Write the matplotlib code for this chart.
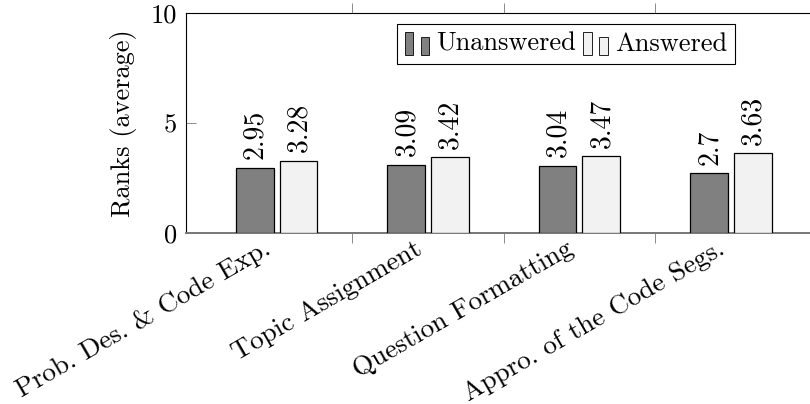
import matplotlib
matplotlib.use("Agg")
import matplotlib.pyplot as plt
import numpy as np
from matplotlib.legend_handler import HandlerBase
from matplotlib.patches import Rectangle

categories = ["Prob. Des. & Code Exp.", "Topic Assignment",
              "Question Formatting", "Appro. of the Code Segs."]
unanswered = [2.95, 3.09, 3.04, 2.7]
answered = [3.28, 3.42, 3.47, 3.63]
unanswered_labels = ["2.95", "3.09", "3.04", "2.7"]
answered_labels = ["3.28", "3.42", "3.47", "3.63"]
series_names = ["Unanswered", "Answered"]
yticks = [0, 5, 10]

plt.rcParams['font.family'] = ['cmr10', 'DejaVu Serif']
plt.rcParams['mathtext.fontset'] = 'cm'
plt.rcParams['axes.formatter.use_mathtext'] = True
FS = 19

W, H = 810, 404
fig = plt.figure(figsize=(W / 100, H / 100), dpi=100)
left, top, bottom = 185.7, 12.7, 232.7
axw = 640.0
ax = fig.add_axes([left / W, 1 - bottom / H, axw / W, (bottom - top) / H])
ax.patch.set_visible(False)

x = np.arange(len(categories))
bw = 0.25
off = 0.145
dark = "#808080"
light = "#f2f2f2"
b1 = ax.bar(x - off, unanswered, bw, color=dark, edgecolor="black", linewidth=0.9, label=series_names[0], zorder=3)
b2 = ax.bar(x + off, answered, bw, color=light, edgecolor="black", linewidth=0.9, label=series_names[1], zorder=3)

for bars, labs in ((b1, unanswered_labels), (b2, answered_labels)):
    for rect, lab in zip(bars, labs):
        ax.annotate(lab, (rect.get_x() + rect.get_width() / 2, rect.get_height()),
                    xytext=(0.5, 6.0), textcoords="offset points", rotation=90,
                    ha="center", va="bottom", fontsize=20)

ax.set_xlim(-0.6, 3.626)
ax.set_ylim(0, 10)
ax.set_yticks(yticks)
ax.set_yticklabels([str(v) for v in yticks], fontsize=FS)
ax.tick_params(axis="y", direction="in", length=7.5, width=0.6, color="#777777", pad=6,
               right=False, labelright=False)

# boundary ticks (outside, top and bottom), labels at group centres
ax.set_xticks(np.arange(len(categories) - 1) + 0.5)
ax.set_xticklabels([])
ax.tick_params(axis="x", which="major", direction="out", length=7.5, width=0.6,
               color="#777777", top=True, bottom=True)
ax.set_xticks(x - 0.03, minor=True)
ax.set_xticklabels(categories, minor=True, rotation=30, ha="right", va="baseline",
                   rotation_mode="anchor", fontsize=19.6)
ax.tick_params(axis="x", which="minor", length=0, pad=14.8, top=False)

ax.set_ylabel("Ranks (average)", fontsize=FS, labelpad=10)

for s in ("left", "top"):
    ax.spines[s].set_color("black")
    ax.spines[s].set_linewidth(0.8)
ax.spines["bottom"].set_color("#777777")
ax.spines["bottom"].set_linewidth(1.4)
ax.spines["right"].set_visible(False)


class TwoBarHandler(HandlerBase):
    def create_artists(self, legend, orig_handle, xdescent, ydescent, width, height, fontsize, trans):
        fc = orig_handle.get_facecolor()
        w = width * 0.34
        r1 = Rectangle((-xdescent, -ydescent - height * 0.25), w, height * 1.25,
                       facecolor=fc, edgecolor="black", linewidth=0.6, transform=trans)
        r2 = Rectangle((-xdescent + width * 0.66, -ydescent - height * 0.25), w, height * 1.0,
                       facecolor=fc, edgecolor="black", linewidth=0.6, transform=trans)
        return [r1, r2]


leg = fig.legend(handles=[b1.patches[0], b2.patches[0]], labels=series_names,
                 handler_map={Rectangle: TwoBarHandler()},
                 loc="upper left", bbox_to_anchor=(397 / W, 1 - 24 / H), ncol=2,
                 fontsize=FS, frameon=True, fancybox=False, framealpha=1,
                 handlelength=0.92, handleheight=0.7, handletextpad=0.27,
                 columnspacing=0.27, borderpad=0.3, borderaxespad=0)
leg.get_frame().set_edgecolor("black")
leg.get_frame().set_linewidth(0.8)

fig.savefig("out.png", dpi=100)
